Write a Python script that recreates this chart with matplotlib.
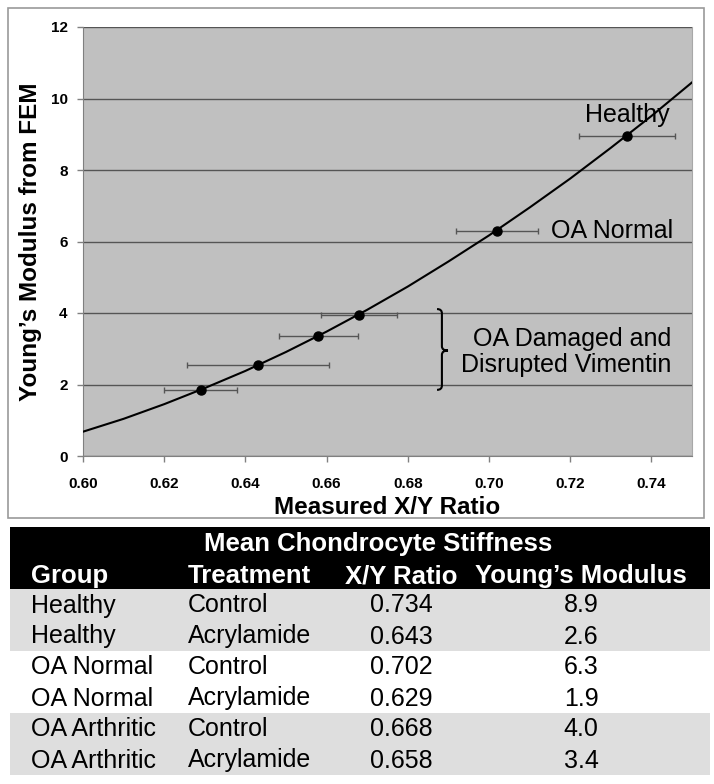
import numpy as np
import matplotlib
matplotlib.use("Agg")
import matplotlib.pyplot as plt
from matplotlib.patches import Rectangle, PathPatch
from matplotlib.path import Path

plt.rcParams['font.family'] = ['Liberation Sans', 'DejaVu Sans']

# measured points (x/y ratio, modulus) with x error
pt_x = [0.734, 0.702, 0.668, 0.658, 0.643, 0.629]
pt_y = [8.95, 6.3, 3.95, 3.35, 2.55, 1.85]
pt_xerr = [0.0118, 0.0101, 0.0093, 0.0097, 0.0175, 0.0090]

# FEM curve
curve_x = [0.60, 0.61, 0.62, 0.63, 0.64, 0.65, 0.66, 0.67, 0.68, 0.69,
           0.70, 0.71, 0.72, 0.73, 0.74, 0.75]
curve_y = [0.68, 1.04, 1.45, 1.90, 2.38, 2.91, 3.48, 4.09, 4.74, 5.44,
           6.17, 6.95, 7.76, 8.62, 9.51, 10.45]

# table
tbl_title = "Mean Chondrocyte Stiffness"
tbl_cols = ["Group", "Treatment", "X/Y Ratio", "Young\u2019s Modulus"]
tbl_group = ["Healthy", "Healthy", "OA Normal", "OA Normal", "OA Arthritic", "OA Arthritic"]
tbl_treat = ["Control", "Acrylamide", "Control", "Acrylamide", "Control", "Acrylamide"]
tbl_ratio = ["0.734", "0.643", "0.702", "0.629", "0.668", "0.658"]
tbl_mod = ["8.9", "2.6", "6.3", "1.9", "4.0", "3.4"]

W, H = 714, 784
fig = plt.figure(figsize=(W/100, H/100), dpi=100)

# background layer in pixel coords (frame + table)
bg = fig.add_axes([0, 0, 1, 1], zorder=0)
bg.set_xlim(0, W)
bg.set_ylim(H, 0)
bg.axis('off')
bg.add_patch(Rectangle((8, 8), 696, 510, facecolor='none', edgecolor='#9a9a9a', lw=1.2))

bg.add_patch(Rectangle((10, 527), 700, 62, facecolor='black', edgecolor='none'))
bg.text(378, 544, tbl_title, color='white', fontsize=18.5, fontweight='bold', ha='center', va='center')
col_x = [31, 188, 401, 581]
col_ha = ['left', 'left', 'center', 'center']
for c, lab in enumerate(tbl_cols):
    bg.text(col_x[c], 576, lab, color='white', fontsize=18.5, fontweight='bold', ha=col_ha[c], va='center')

row_h = 31
top = 589
band_cols = ['#dedede', 'white', '#dedede']
for b in range(3):
    bg.add_patch(Rectangle((10, top + b*2*row_h), 700, 2*row_h, facecolor=band_cols[b], edgecolor='none'))
for i in range(len(tbl_group)):
    yc = top + row_h*i + row_h/2 + 1
    vals = [tbl_group[i], tbl_treat[i], tbl_ratio[i], tbl_mod[i]]
    for c, v in enumerate(vals):
        bg.text(col_x[c], yc, v, fontsize=18, ha=col_ha[c], va='center', color='black')

# main chart
ax = fig.add_axes([83/W, 1-456/H, (692-83)/W, (456-27)/H], zorder=1)
ax.set_facecolor('#c0c0c0')
ax.set_xlim(0.60, 0.75)
ax.set_ylim(0, 12)
ax.set_xticks(np.arange(0.60, 0.7401, 0.02))
ax.set_yticks(np.arange(0, 12.01, 2))
ax.xaxis.set_major_formatter(matplotlib.ticker.FormatStrFormatter('%.2f'))
ax.yaxis.set_major_formatter(matplotlib.ticker.FormatStrFormatter('%d'))
for lbl in ax.get_xticklabels() + ax.get_yticklabels():
    lbl.set_fontweight('bold')
ax.tick_params(labelsize=11, length=4, color='#808080', width=1, pad=7)
ax.tick_params(axis='x', pad=11)
ax.grid(axis='y', color='#555555', lw=1)
ax.set_axisbelow(True)
for s in ['left', 'bottom']:
    ax.spines[s].set_color('#808080')
ax.spines['top'].set_visible(False)
ax.spines['right'].set_color('#a8a8a8')

ax.plot(curve_x, curve_y, color='black', lw=1.5, zorder=3)
ax.errorbar(pt_x, pt_y, xerr=pt_xerr, fmt='none', ecolor='#555555', elinewidth=1, capsize=2, capthick=1, zorder=2)
ax.plot(pt_x, pt_y, 'o', color='black', ms=6.5, zorder=4)

ax.set_xlabel("Measured X/Y Ratio", fontsize=17.5, fontweight='bold', labelpad=4)
ax.set_ylabel("Young\u2019s Modulus from FEM", fontsize=17.5, fontweight='bold', labelpad=6)

ax.text(0.7446, 9.55, "Healthy", fontsize=18, ha='right', va='center')
ax.text(0.7453, 6.3, "OA Normal", fontsize=18, ha='right', va='center')
ax.text(0.7450, 2.92, "OA Damaged and\nDisrupted Vimentin", fontsize=18, ha='right', va='center', linespacing=1.1)

# curly brace
xl, xm, xt = 0.6872, 0.6884, 0.6899
ytop, ybot, ymid, r = 4.11, 1.85, 2.95, 0.12
verts = [(xl, ytop), (xm, ytop), (xm, ytop - r), (xm, ymid + r),
         (xm, ymid), (xt, ymid), (xm, ymid), (xm, ymid - r),
         (xm, ybot + r), (xm, ybot), (xl, ybot)]
codes = [Path.MOVETO, Path.CURVE3, Path.CURVE3, Path.LINETO,
         Path.CURVE3, Path.CURVE3, Path.CURVE3, Path.CURVE3,
         Path.LINETO, Path.CURVE3, Path.CURVE3]
ax.add_patch(PathPatch(Path(verts, codes), facecolor='none', edgecolor='black', lw=1.5))

fig.savefig("out.png", dpi=100)
